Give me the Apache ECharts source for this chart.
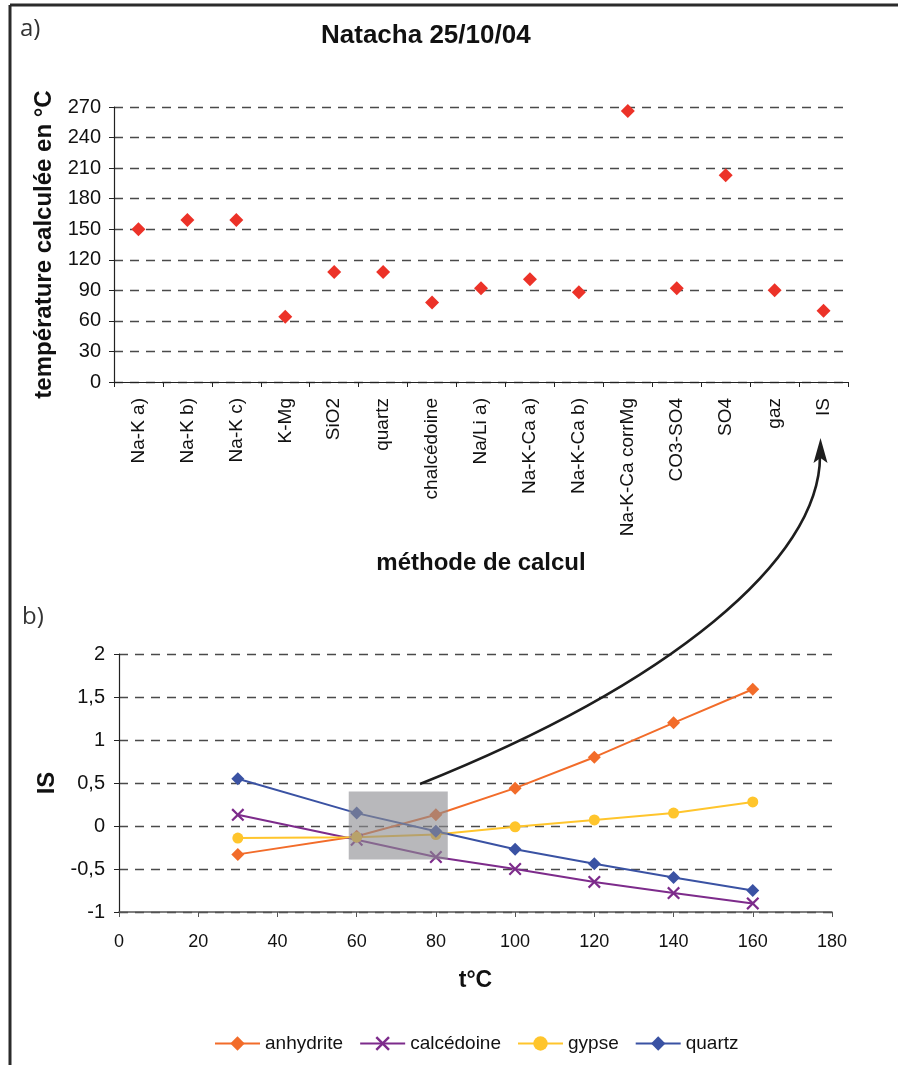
<!DOCTYPE html>
<html>
<head>
<meta charset="utf-8">
<script src="https://cdn.jsdelivr.net/npm/echarts@6/dist/echarts.min.js"></script>
<style>
html,body{margin:0;padding:0;background:#fff;}
#c{width:898px;height:1065px;}
</style>
</head>
<body>
<div id="c"></div>
<script>
// ---- data ----
const categories = ['Na-K a)', 'Na-K b)', 'Na-K c)', 'K-Mg', 'SiO2', 'quartz', 'chalcédoine', 'Na/Li a)', 'Na-K-Ca a)', 'Na-K-Ca b)', 'Na-K-Ca corrMg', 'CO3-SO4', 'SO4', 'gaz', 'IS'];
const tempValues = [150, 159, 159, 64, 108, 108, 78, 92, 101, 88, 266, 92, 203, 90, 70];
const tValues = [30, 60, 80, 100, 120, 140, 160];
const anhydrite = [-0.33, -0.12, 0.13, 0.44, 0.80, 1.20, 1.59];
const calcedoine = [0.13, -0.16, -0.36, -0.50, -0.65, -0.78, -0.90];
const gypse = [-0.14, -0.13, -0.10, -0.01, 0.07, 0.15, 0.28];
const quartz = [0.55, 0.15, -0.06, -0.27, -0.44, -0.60, -0.75];
const seriesNames = ['anhydrite', 'calcédoine', 'gypse', 'quartz'];
const highlightBox = [58, 0.40, 83, -0.39];

const FONT = '"Liberation Sans", Arial, sans-serif';
const pair = (ys) => tValues.map((x, i) => [x, ys[i]]);
const xSym = 'path://M0,1.2L1.2,0L5,3.8L8.8,0L10,1.2L6.2,5L10,8.8L8.8,10L5,6.2L1.2,10L0,8.8L3.8,5Z';

const dashed = { show: true, lineStyle: { color: '#4a4a4a', type: [9, 7], width: 1.3 } };

const chart = echarts.init(document.getElementById('c'), null, { renderer: 'canvas' });
chart.setOption({
  animation: false,
  backgroundColor: '#fff',
  textStyle: { fontFamily: FONT },
  title: {
    text: 'Natacha 25/10/04',
    left: 316, top: 18,
    textStyle: { fontFamily: FONT, fontSize: 26, fontWeight: 'bold', color: '#111' }
  },
  legend: {
    data: seriesNames,
    left: 209, top: 1029,
    itemWidth: 45, itemHeight: 18, itemGap: 16,
    textStyle: { fontFamily: FONT, fontSize: 19, color: '#111' }
  },
  grid: [
    { left: 114, right: 50, top: 107, bottom: 683, containLabel: false },
    { left: 119, right: 66, top: 654, bottom: 153, containLabel: false }
  ],
  xAxis: [
    {
      type: 'category', gridIndex: 0, data: categories, boundaryGap: true,
      axisLine: { lineStyle: { color: '#222', width: 1.2 } },
      axisTick: { show: true, length: 5, lineStyle: { color: '#222' } },
      axisLabel: { rotate: 90, interval: 0, margin: 16, fontSize: 19, color: '#111', fontFamily: FONT },
      name: 'méthode de calcul', nameLocation: 'middle', nameGap: 169,
      nameTextStyle: { fontSize: 24, fontWeight: 'bold', color: '#111', fontFamily: FONT },
      splitLine: { show: false }
    },
    {
      type: 'value', gridIndex: 1, min: 0, max: 180, interval: 20,
      axisLine: { show: true, onZero: false, lineStyle: { color: '#555', width: 1.5 } },
      axisTick: { show: true, length: 5, lineStyle: { color: '#555' } },
      axisLabel: { margin: 21, fontSize: 18, color: '#111', fontFamily: FONT },
      name: 't°C', nameLocation: 'middle', nameGap: 57,
      nameTextStyle: { fontSize: 23, fontWeight: 'bold', color: '#111', fontFamily: FONT },
      splitLine: { show: false }
    }
  ],
  yAxis: [
    {
      type: 'value', gridIndex: 0, min: 0, max: 270, interval: 30,
      axisLine: { show: true, lineStyle: { color: '#222', width: 1.2 } },
      axisTick: { show: true, length: 5, lineStyle: { color: '#222' } },
      axisLabel: { margin: 13, fontSize: 20, color: '#111', fontFamily: FONT },
      name: 'température calculée en °C', nameLocation: 'middle', nameGap: 57,
      nameTextStyle: { fontSize: 24, fontWeight: 'bold', color: '#111', fontFamily: FONT },
      splitLine: dashed
    },
    {
      type: 'value', gridIndex: 1, min: -1, max: 2, interval: 0.5,
      axisLine: { show: true, lineStyle: { color: '#222', width: 1.2 } },
      axisTick: { show: true, length: 5, lineStyle: { color: '#222' } },
      axisLabel: { margin: 14, fontSize: 20, color: '#111', fontFamily: FONT,
        formatter: (v) => String(v).replace('.', ',') },
      name: 'IS', nameLocation: 'middle', nameGap: 60,
      nameTextStyle: { fontSize: 24, fontWeight: 'bold', color: '#111', fontFamily: FONT },
      splitLine: dashed
    }
  ],
  series: [
    {
      name: 'température', type: 'scatter', xAxisIndex: 0, yAxisIndex: 0,
      data: tempValues, symbol: 'diamond', symbolSize: 14,
      itemStyle: { color: '#EC3228', opacity: 1 }
    },
    {
      name: 'anhydrite', type: 'line', xAxisIndex: 1, yAxisIndex: 1,
      data: pair(anhydrite), symbol: 'diamond', symbolSize: 13, showAllSymbol: true,
      lineStyle: { color: '#F26C2A', width: 2 }, itemStyle: { color: '#F26C2A' }
    },
    {
      name: 'calcédoine', type: 'line', xAxisIndex: 1, yAxisIndex: 1,
      data: pair(calcedoine), symbol: xSym, symbolSize: 13,
      lineStyle: { color: '#7D2B8B', width: 2 }, itemStyle: { color: '#7D2B8B' }
    },
    {
      name: 'gypse', type: 'line', xAxisIndex: 1, yAxisIndex: 1,
      data: pair(gypse), symbol: 'circle', symbolSize: 11,
      lineStyle: { color: '#FFC52C', width: 2 }, itemStyle: { color: '#FFC52C' }
    },
    {
      name: 'quartz', type: 'line', xAxisIndex: 1, yAxisIndex: 1,
      data: pair(quartz), symbol: 'diamond', symbolSize: 13,
      lineStyle: { color: '#3A52A3', width: 2 }, itemStyle: { color: '#3A52A3' }
    },
    {
      name: 'zone', type: 'custom', xAxisIndex: 1, yAxisIndex: 1, z: 5, silent: true,
      data: [highlightBox],
      renderItem: (params, api) => {
        const p1 = api.coord([api.value(0), api.value(1)]);
        const p2 = api.coord([api.value(2), api.value(3)]);
        return { type: 'rect', shape: { x: p1[0], y: p1[1], width: p2[0] - p1[0], height: p2[1] - p1[1] },
          style: { fill: 'rgba(140,141,145,0.62)' } };
      }
    }
  ],
  graphic: [
    { type: 'line', shape: { x1: 10, y1: 5, x2: 898, y2: 5 }, style: { stroke: '#2b2b2b', lineWidth: 3 } },
    { type: 'line', shape: { x1: 10, y1: 5, x2: 10, y2: 1065 }, style: { stroke: '#2b2b2b', lineWidth: 3 } },
    { type: 'text', left: 20, top: 17, style: { text: 'a)', font: '24px "Open Sans", sans-serif', fill: '#333' } },
    { type: 'text', left: 22, top: 605, style: { text: 'b)', font: '24px "Open Sans", sans-serif', fill: '#333' } },
    { type: 'bezierCurve', z: 10,
      shape: { x1: 420, y1: 784, cpx1: 670, cpy1: 684, cpx2: 820, cpy2: 560, x2: 820, y2: 456 },
      style: { stroke: '#1e1e1e', lineWidth: 2.6, fill: null } },
    { type: 'polygon', z: 10,
      shape: { points: [[820.5, 438], [813.5, 463], [820.5, 458], [827.5, 463]] },
      style: { fill: '#1e1e1e' } }
  ]
});
</script>
</body>
</html>
